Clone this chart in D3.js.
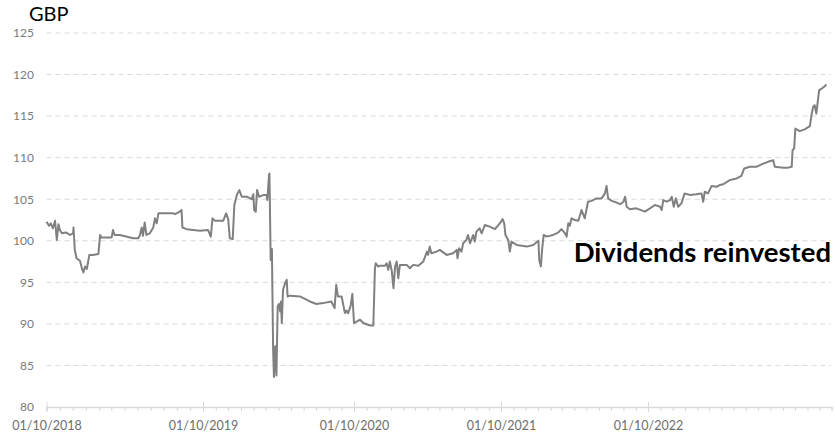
<!DOCTYPE html>
<html>
<head>
<meta charset="utf-8">
<script src="https://cdn.jsdelivr.net/npm/d3@7"></script>
<style>
  body { margin: 0; background: #fff; }
  svg { display: block; font-family: Lato, 'Open Sans', sans-serif; }
</style>
</head>
<body>
<div id="chart"></div>
<script>
// price series
const dates = [
  '2018-10-01','2018-10-07','2018-10-11','2018-10-16','2018-10-21','2018-10-25','2018-10-29','2018-11-01','2018-11-06','2018-11-15',
  '2018-11-25','2018-12-02','2018-12-03','2018-12-06','2018-12-10','2018-12-18','2018-12-22','2018-12-26','2018-12-30','2019-01-03',
  '2019-01-09','2019-01-17','2019-01-30','2019-02-03','2019-02-06','2019-02-18','2019-03-02','2019-03-05','2019-03-09','2019-03-21',
  '2019-04-14','2019-04-21','2019-05-03','2019-05-07','2019-05-11','2019-05-14','2019-05-18','2019-05-22','2019-05-30','2019-06-07',
  '2019-06-11','2019-06-15','2019-06-19','2019-06-30','2019-07-24','2019-07-28','2019-08-08','2019-08-12','2019-08-14','2019-08-24',
  '2019-09-24','2019-10-13','2019-10-20','2019-10-24','2019-10-30','2019-11-19','2019-11-26','2019-12-01','2019-12-05','2019-12-12',
  '2019-12-16','2019-12-22','2019-12-28','2020-01-03','2020-01-15','2020-01-27','2020-01-31','2020-02-02','2020-02-06','2020-02-09',
  '2020-02-14','2020-02-24','2020-03-03','2020-03-05','2020-03-09','2020-03-10','2020-03-11','2020-03-13','2020-03-16','2020-03-19',
  '2020-03-21','2020-03-24','2020-03-27','2020-03-30','2020-04-02','2020-04-05','2020-04-07','2020-04-09','2020-04-12','2020-04-17',
  '2020-04-21','2020-04-23','2020-04-29','2020-05-23','2020-06-16','2020-07-02','2020-07-18','2020-08-07','2020-08-15','2020-08-19',
  '2020-08-23','2020-09-01','2020-09-09','2020-09-13','2020-09-17','2020-09-23','2020-09-27','2020-10-01','2020-10-16','2020-10-24',
  '2020-11-10','2020-11-18','2020-11-22','2020-11-24','2020-11-30','2020-12-04','2020-12-17','2020-12-21','2020-12-25','2020-12-29',
  '2021-01-03','2021-01-07','2021-01-11','2021-01-15','2021-01-19','2021-01-23','2021-02-09','2021-02-17','2021-02-25','2021-03-10',
  '2021-03-22','2021-03-31','2021-04-03','2021-04-07','2021-04-11','2021-04-24','2021-05-02','2021-05-19','2021-06-04','2021-06-13',
  '2021-06-15','2021-06-19','2021-06-25','2021-06-29','2021-07-07','2021-07-11','2021-07-16','2021-07-24','2021-07-28','2021-08-01',
  '2021-08-09','2021-08-14','2021-08-22','2021-09-03','2021-09-16','2021-09-28','2021-10-05','2021-10-09','2021-10-12','2021-10-19',
  '2021-10-23','2021-10-27','2021-11-09','2021-12-04','2021-12-20','2022-01-02','2022-01-04','2022-01-08','2022-01-11','2022-01-15',
  '2022-01-22','2022-02-07','2022-02-16','2022-02-20','2022-02-28','2022-03-09','2022-03-13','2022-03-17','2022-03-21','2022-03-25',
  '2022-04-02','2022-04-11','2022-04-19','2022-04-27','2022-05-05','2022-05-14','2022-05-26','2022-06-08','2022-06-16','2022-06-20',
  '2022-06-24','2022-07-03','2022-07-15','2022-07-24','2022-08-01','2022-08-05','2022-08-09','2022-08-17','2022-09-02','2022-09-23',
  '2022-10-06','2022-10-18','2022-10-31','2022-11-04','2022-11-08','2022-11-16','2022-11-25','2022-11-29','2022-12-04','2022-12-09',
  '2022-12-15','2022-12-23','2022-12-31','2023-01-13','2023-01-29','2023-02-11','2023-02-15','2023-02-19','2023-02-27','2023-03-08',
  '2023-03-20','2023-03-28','2023-04-06','2023-04-22','2023-05-09','2023-05-21','2023-05-28','2023-06-11','2023-06-27','2023-07-10',
  '2023-07-26','2023-08-08','2023-08-12','2023-09-02','2023-09-14','2023-09-23','2023-09-25','2023-09-29','2023-10-02','2023-10-09',
  '2023-10-13','2023-10-25','2023-11-07','2023-11-11','2023-11-15','2023-11-19','2023-11-23','2023-11-26','2023-11-30','2023-12-06',
  '2023-12-14','2023-12-18'
];
const values = [
  102.3,101.8,102.1,101.5,102.4,100.1,102.0,101.3,100.9,101.0,
  100.7,100.9,101.6,98.9,97.9,97.6,96.8,96.2,96.9,96.6,
  98.3,98.3,98.4,100.7,100.4,100.4,100.4,101.3,100.7,100.7,
  100.4,100.3,100.3,100.7,101.6,100.6,102.2,100.7,100.9,101.6,
  102.7,102.1,103.3,103.3,103.3,103.2,103.5,103.7,101.6,101.4,
  101.2,101.3,100.5,102.7,102.4,102.4,103.3,102.6,100.3,100.2,
  104.3,105.5,106.1,105.3,105.3,105.0,105.6,103.7,103.5,106.1,
  105.3,105.5,105.5,104.9,107.9,108.1,104.9,97.7,99.0,86.9,
  83.6,87.3,83.8,92.1,92.4,91.5,92.7,90.1,94.1,94.9,
  95.3,93.3,93.4,93.3,92.7,92.4,92.5,92.7,91.9,94.7,
  93.3,93.3,91.3,91.6,91.3,92.2,93.6,90.1,90.5,90.1,
  89.8,89.8,96.7,97.3,96.9,97.0,97.0,97.3,96.5,97.5,
  96.3,94.3,96.9,97.5,95.5,97.1,97.1,96.7,97.1,97.0,
  97.5,98.7,98.3,99.3,98.5,98.7,98.9,98.3,98.5,98.9,
  97.9,99.1,98.7,99.7,100.1,100.7,99.7,100.7,99.9,101.1,
  101.5,100.9,101.9,101.7,101.4,102.1,102.6,102.1,100.7,100.1,
  98.7,99.9,99.5,99.3,99.5,100.0,97.7,96.9,98.9,100.7,
  100.5,100.7,100.9,101.0,101.4,100.9,100.5,102.1,101.8,102.7,
  102.5,102.4,103.7,102.7,104.7,104.8,105.1,105.1,105.7,106.6,
  105.1,104.8,104.6,104.4,104.7,105.3,104.1,103.8,103.9,103.5,
  103.9,104.3,104.1,103.7,104.9,104.7,104.9,105.3,104.1,105.1,
  104.1,104.5,105.7,105.5,105.6,105.7,104.7,105.9,105.7,106.6,
  106.5,106.7,106.8,107.3,107.5,107.8,108.7,108.9,108.9,109.2,
  109.5,109.7,108.9,108.8,108.8,108.9,110.9,111.1,113.5,113.3,
  113.2,113.4,113.8,115.1,116.1,116.3,115.3,116.5,118.1,118.3,
  118.6,118.8
];
const yTicks = [80, 85, 90, 95, 100, 105, 110, 115, 120, 125];
const xLabels = ['2018-10-01', '2019-10-01', '2020-10-01', '2021-10-01', '2022-10-01'];
const axisEnd = '2023-12-31';
const unitLabel = 'GBP';
const seriesLabel = 'Dividends reinvested';

const w = 835;
const h = 433;
const parse = d3.timeParse('%Y-%m-%d');
const data = dates.map((d, i) => ({ date: parse(d), value: values[i] }));
const labelDates = xLabels.map(parse);
const endDate = parse(axisEnd);

const svg = d3.select('#chart')
  .append('svg')
  .attr('width', w)
  .attr('height', h);

// the date axis is not evenly spaced in the original, so pin each labelled date
const xScale = d3.scaleTime()
  .domain(labelDates.concat([endDate]))
  .range([46.5, 203, 354, 501, 648, 831.6]);

const yScale = d3.scaleLinear()
  .domain([80, 125])
  .range([407, 33]);

// gridlines
svg.append('g')
  .selectAll('line')
  .data(yTicks.filter(t => t > 80))
  .enter()
  .append('line')
  .attr('x1', xScale.range()[0])
  .attr('x2', 831)
  .attr('y1', d => yScale(d))
  .attr('y2', d => yScale(d))
  .attr('stroke', '#d9d9d9')
  .attr('stroke-width', 1)
  .attr('stroke-dasharray', '5,4');

// y labels
const yAxis = d3.axisLeft(yScale)
  .tickValues(yTicks)
  .tickSize(0)
  .tickPadding(0);

const yG = svg.append('g')
  .attr('transform', 'translate(34, 0)')
  .call(yAxis);
yG.select('.domain').remove();
yG.selectAll('text')
  .attr('fill', '#7a7a7a')
  .style('font-size', '12px')
  .style('font-family', 'Lato, sans-serif');

// x axis: monthly minor ticks, yearly labels
const minorAxis = d3.axisBottom(xScale)
  .tickValues(d3.timeMonth.range(labelDates[0], endDate))
  .tickSize(4)
  .tickFormat('');

const minorG = svg.append('g')
  .attr('transform', 'translate(0, 407)')
  .call(minorAxis);
minorG.select('.domain')
  .attr('stroke', '#d9d9d9')
  .attr('stroke-width', 1.5);
minorG.selectAll('.tick line').attr('stroke', '#d9d9d9');

const majorAxis = d3.axisBottom(xScale)
  .tickValues(labelDates)
  .tickSize(5)
  .tickPadding(9)
  .tickFormat(d3.timeFormat('%d/%m/%Y'));

const majorG = svg.append('g')
  .attr('transform', 'translate(0, 407)')
  .call(majorAxis);
majorG.select('.domain').remove();
majorG.selectAll('.tick line')
  .attr('y1', -5)
  .attr('stroke', '#d9d9d9');
majorG.selectAll('text')
  .attr('fill', '#6e6e6e')
  .style('font-size', '12.5px')
  .style('font-family', 'Lato, sans-serif');

// the series
const line = d3.line()
  .x(d => xScale(d.date))
  .y(d => yScale(d.value));

svg.append('path')
  .datum(data)
  .attr('d', line)
  .attr('fill', 'none')
  .attr('stroke', '#808080')
  .attr('stroke-width', 2)
  .attr('stroke-linejoin', 'round');

svg.append('text')
  .attr('x', 29)
  .attr('y', 21)
  .style('font-size', '20px')
  .attr('fill', '#000')
  .text(unitLabel);

svg.append('text')
  .attr('x', 831)
  .attr('y', 262)
  .style('text-anchor', 'end')
  .style('font-size', '27.5px')
  .style('font-weight', 'bold')
  .attr('fill', '#000')
  .text(seriesLabel);
</script>
</body>
</html>
